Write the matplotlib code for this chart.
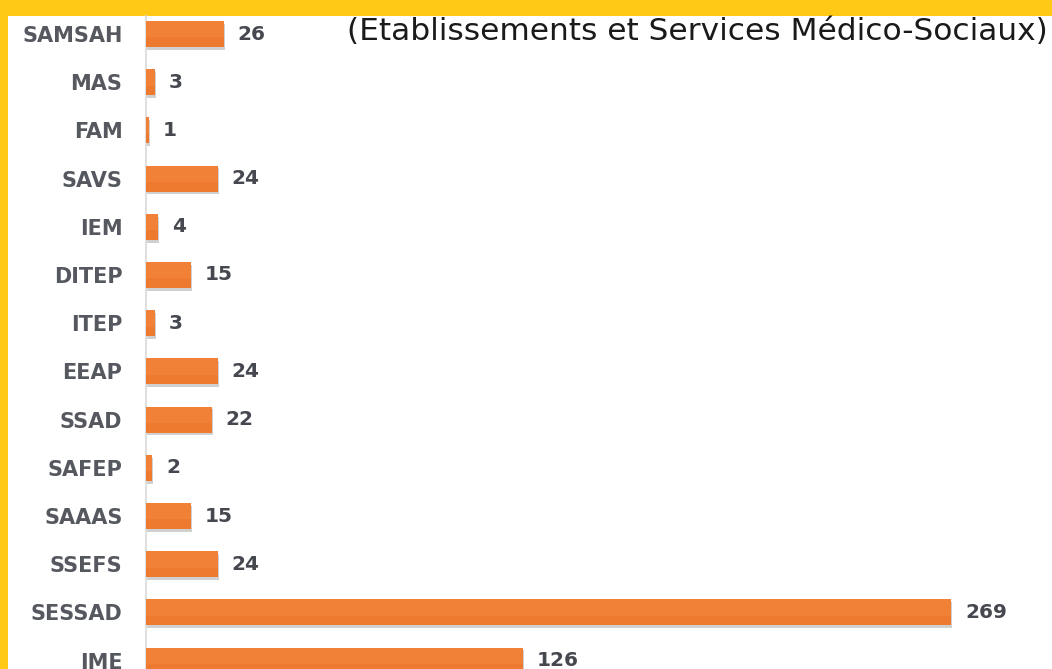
import matplotlib
matplotlib.use('Agg')
import matplotlib.pyplot as plt
import matplotlib.patheffects as pe
from matplotlib.patches import Rectangle
import numpy as np

# data, top to bottom as in the picture
categories = ['SAMSAH', 'MAS', 'FAM', 'SAVS', 'IEM', 'DITEP', 'ITEP', 'EEAP',
              'SSAD', 'SAFEP', 'SAAAS', 'SSEFS', 'SESSAD', 'IME']
values = [26, 3, 1, 24, 4, 15, 3, 24, 22, 2, 15, 24, 269, 126]
title = '(Etablissements et Services Médico-Sociaux)'

W, H = 1052, 669
fig = plt.figure(figsize=(W / 100, H / 100), dpi=100)
fig.patch.set_facecolor('#FFC916')
# white card with yellow frame on top and left
fig.patches.append(Rectangle((8 / W, 0), 1 - 8 / W, 1 - 16 / H, transform=fig.transFigure,
                             facecolor='white', edgecolor='none', zorder=-5))

# axes placed in pixels so the IME bar gets cut at the bottom
ax = fig.add_axes([146 / W, 0, (W - 146) / W, (H - 16) / H])
ax.set_facecolor('none')

pos = np.arange(len(categories))
bars = ax.barh(pos, values, height=0.54, color='#EE7A2F', edgecolor='none', zorder=3)
for b in bars:
    b.set_path_effects([pe.SimplePatchShadow(offset=(1, -2), shadow_rgbFace='#444444', alpha=0.25),
                        pe.Normal()])

# light top highlight on each bar for the gradient look
for p, v in zip(pos, values):
    ax.barh(p - 0.1, v, height=0.34, color='#F4883F', alpha=0.5, edgecolor='none', zorder=4)

ax.set_ylim(635 / 48.2, -18 / 48.2)
ax.set_xlim(0, 906 / 2.9926)

ax.set_yticks(pos)
ax.set_yticklabels(categories, fontsize=15, fontweight='bold', color='#55585f',
                   fontfamily='DejaVu Sans')
ax.tick_params(axis='y', length=0, pad=17)
ax.set_xticks([])

for s in ['top', 'right', 'bottom']:
    ax.spines[s].set_visible(False)
ax.spines['left'].set_color('#d9d9d9')
ax.spines['left'].set_linewidth(1.2)

for p, v in zip(pos, values):
    ax.annotate(str(v), (v, p), xytext=(14, 0), textcoords='offset pixels',
                va='center', ha='left', fontsize=14.5, fontweight='bold', color='#45484f')

fig.text(1048 / W, 1 - 31 / H, title, ha='right', va='center', fontsize=22.5,
         fontfamily='DejaVu Sans', color='#1a1a1a')

fig.savefig('out.png', dpi=100, facecolor=fig.get_facecolor())
